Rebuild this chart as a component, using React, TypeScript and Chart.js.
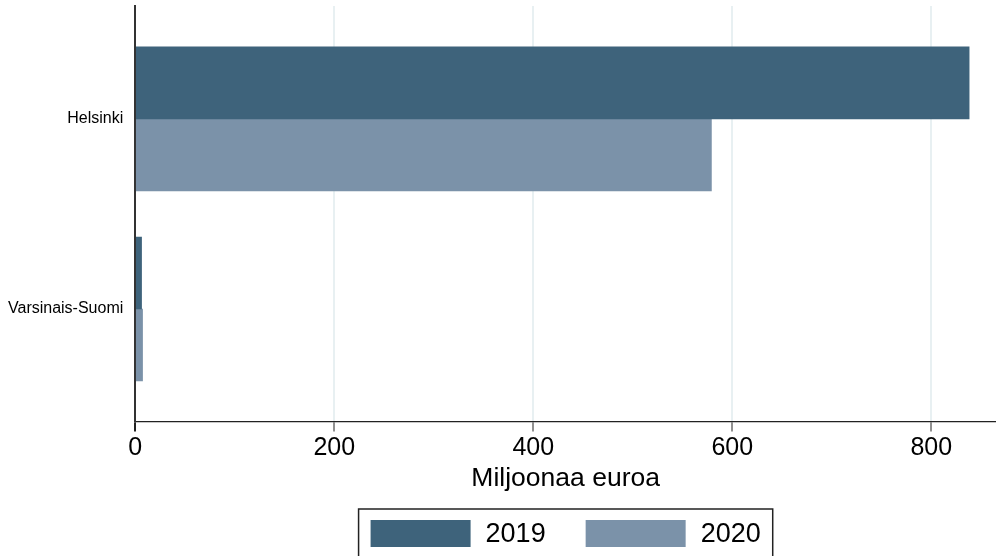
import React, { useEffect, useRef } from "react";
import { Chart, registerables } from "chart.js";

Chart.register(...registerables);

const categories = ["Helsinki", "Varsinais-Suomi"];
const seriesLabels = ["2019", "2020"];
const values2019 = [838, 6.3];
const values2020 = [579, 7.3];
const xTickValues = [0, 200, 400, 600, 800];
const seriesColors = ["#3e637b", "#7b92a9"];

const FONT = "'Liberation Sans', Arial, Helvetica, sans-serif";

const boxedLegend = {
  id: "boxedLegend",
  afterDraw(chart: any) {
    const ctx = chart.ctx;
    const area = chart.chartArea;
    const boxW = 100;
    const boxH = 27;
    const gapText = 15;
    const gapItem = 40;
    const padX = 12;
    const padTop = 11;
    ctx.save();
    ctx.font = `27px ${FONT}`;
    const widths = seriesLabels.map((t) => ctx.measureText(t).width);
    let inner = 0;
    widths.forEach((w, i) => {
      inner += boxW + gapText + w + (i < widths.length - 1 ? gapItem : 0);
    });
    const totalW = inner + padX * 2;
    const cx = (area.left + area.right) / 2;
    const left = cx - totalW / 2;
    const top = chart.height - 47;
    ctx.strokeStyle = "#222";
    ctx.lineWidth = 1.5;
    ctx.strokeRect(left, top, totalW, 80);
    let x = left + padX;
    const by = top + padTop;
    seriesLabels.forEach((t, i) => {
      ctx.fillStyle = seriesColors[i];
      ctx.fillRect(x, by, boxW, boxH);
      x += boxW + gapText;
      ctx.fillStyle = "#000";
      ctx.textBaseline = "middle";
      ctx.textAlign = "left";
      ctx.fillText(t, x, by + boxH / 2 + 1);
      x += widths[i] + gapItem;
    });
    ctx.restore();
  },
};

export default function App() {
  const ref = useRef<HTMLCanvasElement | null>(null);

  useEffect(() => {
    if (!ref.current) return;
    const series = [values2019, values2020];
    const chart = new Chart(ref.current, {
      type: "bar",
      data: {
        datasets: series.map((vals, si) => ({
          label: seriesLabels[si],
          data: vals.map((v, i) => ({ x: v, y: i })),
          backgroundColor: seriesColors[si],
          borderWidth: 0,
          barThickness: 72,
        })),
      },
      plugins: [boxedLegend],
      options: {
        indexAxis: "y",
        responsive: false,
        animation: false,
        layout: { padding: { top: 6, left: 8, right: 0, bottom: 64 } },
        plugins: {
          legend: { display: false },
          tooltip: { enabled: false },
        },
        scales: {
          x: {
            type: "linear",
            min: 0,
            max: 865,
            afterBuildTicks: (scale: any) => {
              scale.ticks = xTickValues.map((v) => ({ value: v }));
            },
            afterFit: (scale: any) => {
              scale.paddingLeft = 0;
              scale.paddingRight = 0;
            },
            grid: {
              color: (c: any) => (c.tick && c.tick.value === 0 ? "rgba(0,0,0,0)" : "#e8f0f2"),
              lineWidth: 2,
              drawTicks: true,
              tickLength: 10,
              tickColor: "#222",
              tickWidth: (c: any) => (c.tick && c.tick.value === 0 ? 2 : 1),
            },
            border: { display: true, color: "#222", width: 1.3 },
            ticks: {
              color: "#000",
              padding: 2,
              font: { family: FONT, size: 25, lineHeight: 1.2 },
              callback: (v: any) => String(v),
            },
            title: {
              display: true,
              text: "Miljoonaa euroa",
              color: "#000",
              font: { family: FONT, size: 26.5, lineHeight: 1.0 },
              padding: { top: 0, bottom: 0 },
            },
          },
          y: {
            type: "linear",
            reverse: true,
            offset: false,
            min: -0.594,
            max: 1.592,
            afterBuildTicks: (scale: any) => {
              scale.ticks = categories.map((_, i) => ({ value: i }));
            },
            afterFit: (scale: any) => {
              scale.width -= 12;
              scale.paddingTop = 0;
              scale.paddingBottom = 0;
            },
            grid: { display: false, drawTicks: false, offset: false },
            border: { display: true, color: "#333", width: 2 },
            ticks: {
              color: "#000",
              padding: 12,
              font: { family: FONT, size: 16 },
              callback: (v: any) => categories[Math.round(Number(v))] ?? "",
            },
          },
        },
      },
    });
    return () => chart.destroy();
  }, []);

  return (
    <div style={{ position: "absolute", left: 0, top: 0, width: 996, height: 556, background: "#fff" }}>
      <canvas ref={ref} width={996} height={556} style={{ display: "block" }} />
    </div>
  );
}
